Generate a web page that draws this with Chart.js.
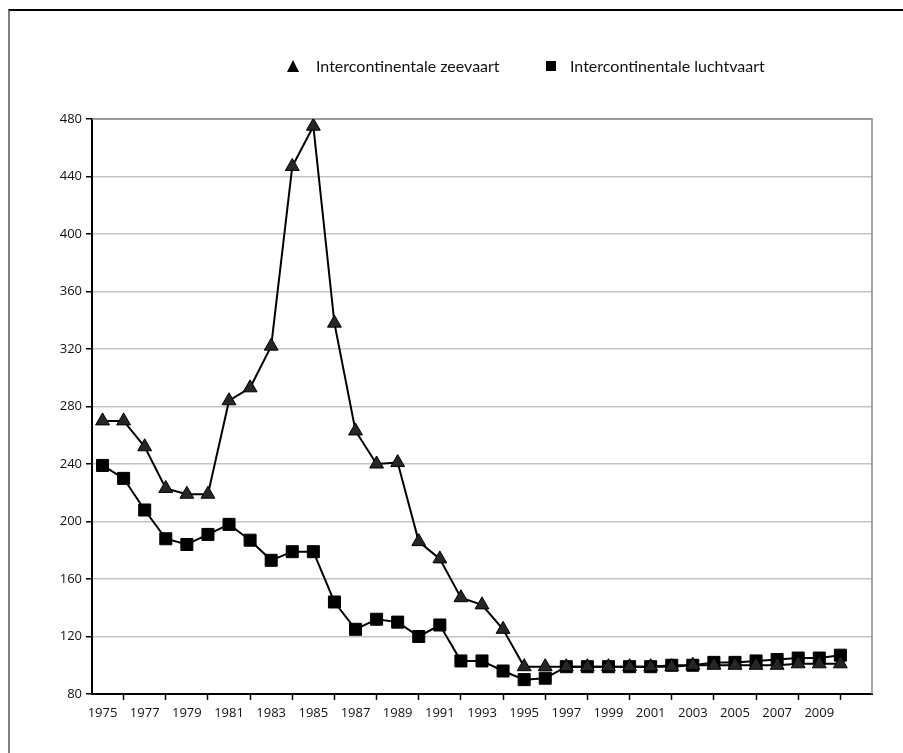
<!DOCTYPE html>
<html>
<head>
<meta charset="utf-8">
<script src="https://cdn.jsdelivr.net/npm/chart.js@4.4.0/dist/chart.umd.min.js"></script>
<style>
    html, body { margin: 0; padding: 0; background: #fff; }
    #wrap { position: relative; width: 903px; height: 753px; overflow: hidden; }
    #frame {
        position: absolute; left: 8px; top: 9px; width: 920px; height: 800px;
        border-top: 2px solid #000; border-left: 2px solid #808080;
    }
    canvas { position: absolute; left: 0; top: 0; }
</style>
</head>
<body>
<div id="wrap">
    <div id="frame"></div>
    <canvas id="chart" width="903" height="753"></canvas>
</div>
<script>
// years on the category axis (one empty slot after 2010, as in the original)
const years = [1975, 1976, 1977, 1978, 1979, 1980, 1981, 1982, 1983, 1984, 1985, 1986,
    1987, 1988, 1989, 1990, 1991, 1992, 1993, 1994, 1995, 1996, 1997, 1998,
    1999, 2000, 2001, 2002, 2003, 2004, 2005, 2006, 2007, 2008, 2009, 2010, ''];

const zeevaart = [270, 270, 252, 223, 219, 219, 284, 293, 322, 447, 475, 338,
    263, 240, 241, 186, 174, 147, 142, 125, 99, 99, 99, 99,
    99, 99, 99, 99, 100, 100, 100, 100, 100, 101, 101, 101];

const luchtvaart = [239, 230, 208, 188, 184, 191, 198, 187, 173, 179, 179, 144,
    125, 132, 130, 120, 128, 103, 103, 96, 90, 91, 99, 99,
    99, 99, 99, 100, 100, 102, 102, 103, 104, 105, 105, 107];

const yTicks = [80, 120, 160, 200, 240, 280, 320, 360, 400, 440, 480];

const legendItems = ['Intercontinentale zeevaart', 'Intercontinentale luchtvaart'];

// gray plot-area border on top and right
const plotBorder = {
    id: 'plotBorder',
    beforeDatasetsDraw(chart) {
        const { ctx, chartArea: a } = chart;
        ctx.save();
        ctx.strokeStyle = '#888';
        ctx.lineWidth = 1.5;
        ctx.beginPath();
        ctx.moveTo(a.left, a.top);
        ctx.lineTo(a.right, a.top);
        ctx.lineTo(a.right, a.bottom);
        ctx.stroke();
        ctx.restore();
    }
};

// legend drawn by hand at the spot used in the original
const handLegend = {
    id: 'handLegend',
    afterDraw(chart) {
        const ctx = chart.ctx;
        ctx.save();
        ctx.fillStyle = '#000';
        // triangle
        ctx.beginPath();
        ctx.moveTo(293, 60);
        ctx.lineTo(299, 72);
        ctx.lineTo(287, 72);
        ctx.closePath();
        ctx.fill();
        // square
        ctx.fillRect(546, 61, 10, 10);
        ctx.font = '16px Lato';
        ctx.textBaseline = 'middle';
        ctx.fillStyle = '#111';
        ctx.fillText(legendItems[0], 316, 67);
        ctx.fillText(legendItems[1], 570, 67);
        ctx.restore();
    }
};

new Chart(document.getElementById('chart'), {
    type: 'line',
    data: {
        labels: years,
        datasets: [
            {
                label: legendItems[0],
                data: zeevaart,
                borderColor: '#000',
                borderWidth: 2,
                pointStyle: 'triangle',
                pointRadius: 8,
                pointBackgroundColor: '#262626',
                pointBorderColor: '#000',
                pointBorderWidth: 1,
                tension: 0
            },
            {
                label: legendItems[1],
                data: luchtvaart,
                borderColor: '#000',
                borderWidth: 2,
                pointStyle: 'rect',
                pointRadius: 8.5,
                pointBackgroundColor: '#000',
                pointBorderColor: '#000',
                pointBorderWidth: 1,
                tension: 0
            }
        ]
    },
    options: {
        responsive: false,
        animation: false,
        layout: { padding: { left: 0, top: 119, right: 31, bottom: 0 } },
        plugins: {
            legend: { display: false },
            tooltip: { enabled: false }
        },
        scales: {
            x: {
                offset: true,
                afterFit: s => { s.height = 59; },
                grid: {
                    offset: true,
                    drawOnChartArea: false,
                    tickColor: '#000',
                    tickLength: 6,
                    tickWidth: 1.5
                },
                border: { color: '#000', width: 2 },
                ticks: {
                    autoSkip: false,
                    maxRotation: 0,
                    padding: 5,
                    color: '#111',
                    font: { family: 'Open Sans', size: 13 },
                    callback: function(v, i) {
                        if (i % 2 === 1) return null;
                        return years[i] === '' ? '' : String(years[i]);
                    }
                }
            },
            y: {
                min: yTicks[0],
                max: yTicks[yTicks.length - 1],
                afterFit: s => { s.width = 92; },
                afterBuildTicks: s => { s.ticks = yTicks.map(v => ({ value: v })); },
                grid: {
                    color: '#c4c4c4',
                    lineWidth: 1.5,
                    tickColor: '#000',
                    tickLength: 6,
                    tickWidth: 1.5
                },
                border: { color: '#000', width: 2 },
                ticks: {
                    padding: 4,
                    color: '#111',
                    font: { family: 'Open Sans', size: 13 }
                }
            }
        }
    },
    plugins: [plotBorder, handLegend]
});
</script>
</body>
</html>
